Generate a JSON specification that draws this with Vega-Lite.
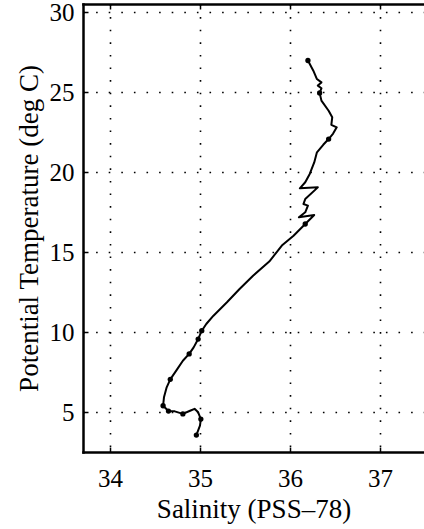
{
  "$schema": "https://vega.github.io/schema/vega-lite/v6.json",
  "width": 341,
  "height": 448,
  "autosize": {"type": "none"},
  "padding": {"left": 83, "top": 4, "right": 0, "bottom": 77},
  "background": "white",
  "config": {
    "view": {"stroke": null},
    "font": "Liberation Serif",
    "axis": {
      "domainColor": "black",
      "domainWidth": 2.5,
      "domainCap": "square",
      "tickColor": "black",
      "tickWidth": 1.5,
      "tickSize": -5,
      "labelColor": "black",
      "labelFont": "Liberation Serif",
      "labelFontSize": 25,
      "titleColor": "black",
      "titleFont": "Liberation Serif",
      "titleFontSize": 27,
      "titleFontWeight": "normal",
      "gridColor": "black",
      "gridOpacity": 1,
      "gridWidth": 1.6,
      "gridDash": [1.6, 11],
      "labelOverlap": false
    }
  },
  "datasets": {
    "profile": [
      {"n": 1, "S": 36.20, "T": 26.97},
      {"n": 2, "S": 36.26, "T": 26.33},
      {"n": 3, "S": 36.30, "T": 25.81},
      {"n": 4, "S": 36.35, "T": 25.60},
      {"n": 5, "S": 36.31, "T": 25.40},
      {"n": 6, "S": 36.35, "T": 25.23},
      {"n": 7, "S": 36.33, "T": 24.94},
      {"n": 8, "S": 36.35, "T": 24.46},
      {"n": 9, "S": 36.43, "T": 23.83},
      {"n": 10, "S": 36.47, "T": 23.42},
      {"n": 11, "S": 36.46, "T": 22.95},
      {"n": 12, "S": 36.52, "T": 22.79},
      {"n": 13, "S": 36.48, "T": 22.40},
      {"n": 14, "S": 36.43, "T": 22.06},
      {"n": 15, "S": 36.37, "T": 21.70},
      {"n": 16, "S": 36.30, "T": 21.23},
      {"n": 17, "S": 36.27, "T": 20.60},
      {"n": 18, "S": 36.22, "T": 19.88},
      {"n": 19, "S": 36.17, "T": 19.36},
      {"n": 20, "S": 36.11, "T": 18.98},
      {"n": 21, "S": 36.31, "T": 19.04},
      {"n": 22, "S": 36.17, "T": 18.31},
      {"n": 23, "S": 36.15, "T": 18.00},
      {"n": 24, "S": 36.20, "T": 17.90},
      {"n": 25, "S": 36.17, "T": 17.48},
      {"n": 26, "S": 36.10, "T": 17.17},
      {"n": 27, "S": 36.27, "T": 17.31},
      {"n": 28, "S": 36.17, "T": 16.75},
      {"n": 29, "S": 36.04, "T": 16.02},
      {"n": 30, "S": 35.91, "T": 15.40},
      {"n": 31, "S": 35.77, "T": 14.40},
      {"n": 32, "S": 35.59, "T": 13.52},
      {"n": 33, "S": 35.44, "T": 12.69},
      {"n": 34, "S": 35.30, "T": 11.86},
      {"n": 35, "S": 35.15, "T": 11.02},
      {"n": 36, "S": 35.07, "T": 10.50},
      {"n": 37, "S": 35.02, "T": 10.08},
      {"n": 38, "S": 34.98, "T": 9.56},
      {"n": 39, "S": 34.93, "T": 9.04},
      {"n": 40, "S": 34.88, "T": 8.63},
      {"n": 41, "S": 34.81, "T": 8.20},
      {"n": 42, "S": 34.74, "T": 7.62},
      {"n": 43, "S": 34.67, "T": 7.04},
      {"n": 44, "S": 34.63, "T": 6.54},
      {"n": 45, "S": 34.60, "T": 5.92},
      {"n": 46, "S": 34.59, "T": 5.39},
      {"n": 47, "S": 34.65, "T": 5.06},
      {"n": 48, "S": 34.72, "T": 5.04},
      {"n": 49, "S": 34.81, "T": 4.88},
      {"n": 50, "S": 34.89, "T": 5.08},
      {"n": 51, "S": 34.94, "T": 5.20},
      {"n": 52, "S": 34.98, "T": 4.98},
      {"n": 53, "S": 35.01, "T": 4.56},
      {"n": 54, "S": 35.00, "T": 4.15},
      {"n": 55, "S": 34.96, "T": 3.56}
    ],
    "samples": [
      {"S": 36.20, "T": 26.97},
      {"S": 36.33, "T": 24.94},
      {"S": 36.43, "T": 22.06},
      {"S": 36.17, "T": 16.75},
      {"S": 35.02, "T": 10.08},
      {"S": 34.98, "T": 9.56},
      {"S": 34.88, "T": 8.63},
      {"S": 34.67, "T": 7.04},
      {"S": 34.59, "T": 5.39},
      {"S": 34.65, "T": 5.06},
      {"S": 34.81, "T": 4.88},
      {"S": 35.01, "T": 4.56},
      {"S": 34.96, "T": 3.56}
    ]
  },
  "layer": [
    {
      "data": {"name": "profile"},
      "mark": {"type": "line", "color": "black", "strokeWidth": 2, "strokeJoin": "round"},
      "encoding": {
        "x": {
          "field": "S", "type": "quantitative",
          "scale": {"domain": [33.7, 37.49], "nice": false, "zero": false},
          "axis": {"orient": "bottom", "values": [34, 35, 36, 37], "grid": true, "labelPadding": 19, "title": "Salinity (PSS–78)", "titlePadding": 5}
        },
        "y": {
          "field": "T", "type": "quantitative",
          "scale": {"domain": [2.5, 30.5], "nice": false, "zero": false},
          "axis": {"orient": "left", "values": [5, 10, 15, 20, 25, 30], "grid": true, "labelPadding": 14, "title": "Potential Temperature (deg C)", "titlePadding": 6}
        },
        "order": {"field": "n"}
      }
    },
    {
      "data": {"name": "samples"},
      "mark": {"type": "point", "filled": true, "color": "black", "size": 28, "opacity": 1},
      "encoding": {
        "x": {"field": "S", "type": "quantitative", "axis": {"orient": "top", "values": [34, 35, 36, 37], "labels": false, "grid": false, "title": null}},
        "y": {"field": "T", "type": "quantitative", "axis": null}
      }
    }
  ],
  "resolve": {"axis": {"x": "independent", "y": "independent"}}
}
